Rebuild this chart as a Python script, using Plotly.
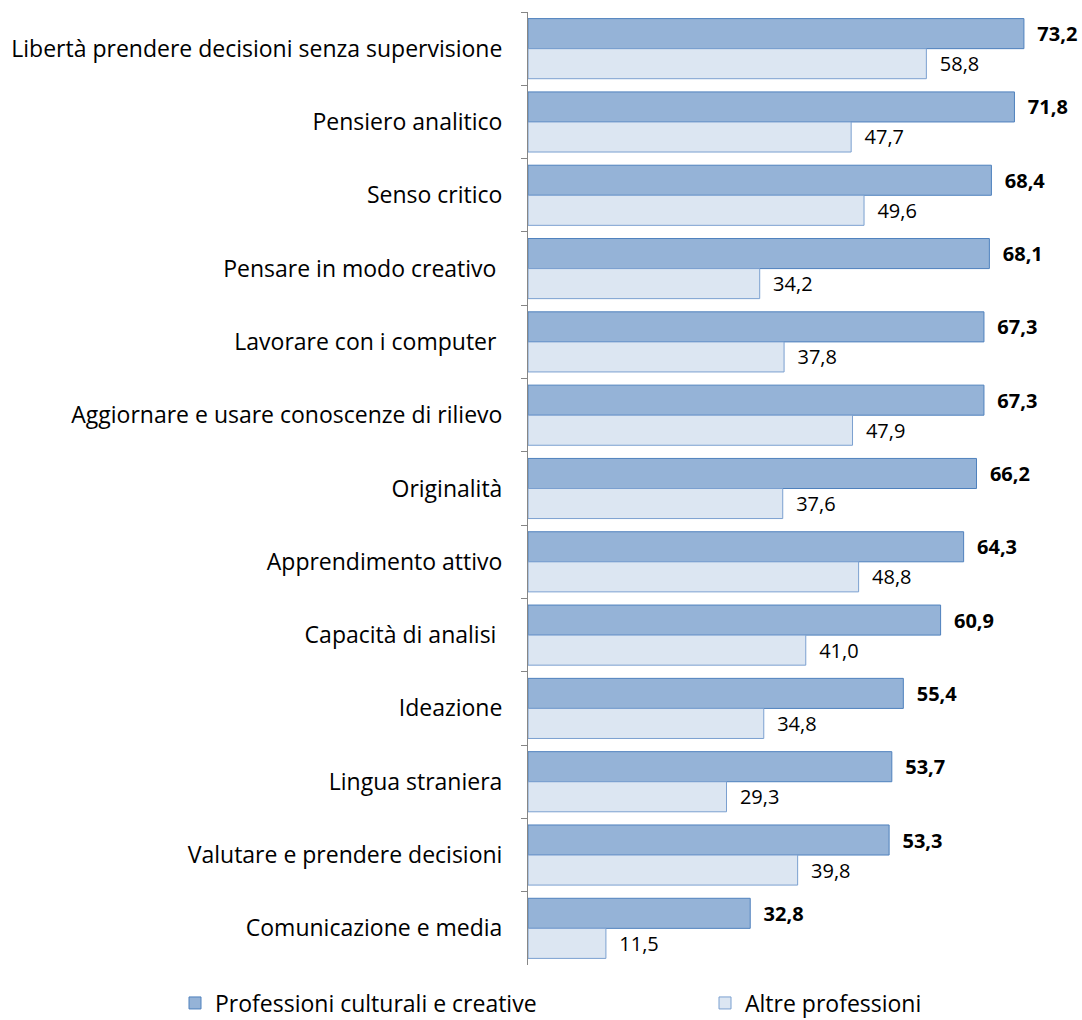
import plotly.graph_objects as go

categories = [
    "Libertà prendere decisioni senza supervisione",
    "Pensiero analitico",
    "Senso critico",
    "Pensare in modo creativo ",
    "Lavorare con i computer ",
    "Aggiornare e usare conoscenze di rilievo",
    "Originalità",
    "Apprendimento attivo",
    "Capacità di analisi ",
    "Ideazione",
    "Lingua straniera",
    "Valutare e prendere decisioni",
    "Comunicazione e media",
]
culturali = [73.2, 71.8, 68.4, 68.1, 67.3, 67.3, 66.2, 64.3, 60.9, 55.4, 53.7, 53.3, 32.8]
altre = [58.8, 47.7, 49.6, 34.2, 37.8, 47.9, 37.6, 48.8, 41.0, 34.8, 29.3, 39.8, 11.5]
series_names = ["Professioni culturali e creative", "Altre professioni"]

def fmt(v):
    return f"{v:.1f}".replace(".", ",")

FONT = "Open Sans"
SP = "\u00a0\u00a0"

fig = go.Figure()
fig.add_trace(go.Bar(
    y=categories, x=culturali, orientation="h", name=series_names[0],
    marker=dict(color="#95b3d7", line=dict(color="#4f81bd", width=1)),
    text=[f"{SP}<b>{fmt(v)}</b>" for v in culturali], textposition="outside",
    textfont=dict(family=FONT, size=20, color="#000000"), cliponaxis=False,
    legend="legend",
))
fig.add_trace(go.Bar(
    y=categories, x=altre, orientation="h", name=series_names[1],
    marker=dict(color="#dce6f2", line=dict(color="#7ba0d0", width=1)),
    text=[f"{SP}{fmt(v)}" for v in altre], textposition="outside",
    textfont=dict(family=FONT, size=20, color="#000000"), cliponaxis=False,
    legend="legend2",
))

legend_common = dict(
    orientation="h", xref="container", yref="container",
    xanchor="left", yanchor="middle",
    font=dict(family=FONT, size=23, color="#000000"),
    bgcolor="rgba(0,0,0,0)",
)

fig.update_layout(
    width=1082, height=1020,
    margin=dict(l=528, r=12, t=12, b=55),
    paper_bgcolor="white", plot_bgcolor="white",
    barmode="group", bargap=0.18, bargroupgap=0,
    font=dict(family=FONT, size=20, color="#000000"),
    showlegend=True,
    legend=dict(x=175 / 1082, y=17 / 1020, **legend_common),
    legend2=dict(x=705 / 1082, y=17 / 1020, **legend_common),
    xaxis=dict(range=[0, 80], visible=False, showgrid=False, zeroline=False),
    yaxis=dict(
        autorange="reversed", showline=True, linecolor="#868686", linewidth=1,
        ticks="outside", tickson="boundaries", ticklen=6, tickcolor="#868686",
        showgrid=False, ticklabelstandoff=20,
        tickfont=dict(family=FONT, size=23, color="#000000"),
    ),
)

fig.write_html("out.html", config={"displayModeBar": False},
               post_script="document.body.style.margin='0';")
